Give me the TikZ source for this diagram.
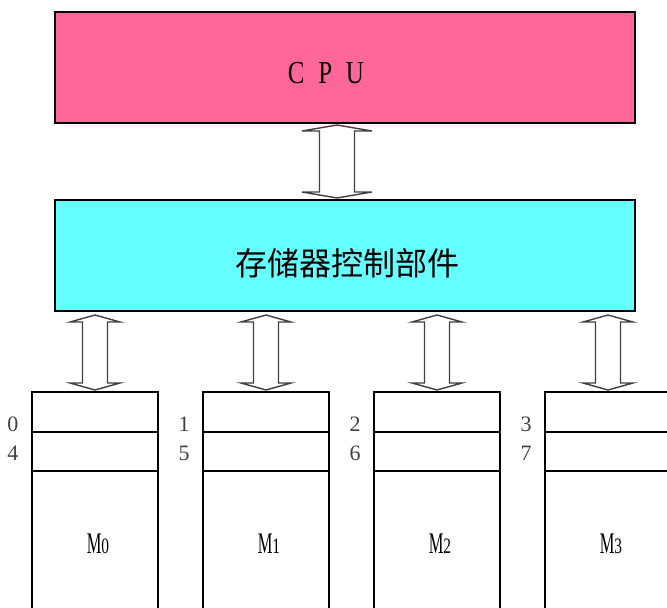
\documentclass[tikz,border=0pt]{standalone}
\usepackage{fontspec}
\setmainfont{Liberation Serif}
\newfontfamily\cjk{Noto Sans CJK SC}
\usetikzlibrary{calc}
\definecolor{CpuPink}{HTML}{FF6699}
\definecolor{CtrlCyan}{HTML}{66FFFF}
\definecolor{BusGray}{HTML}{404040}

% hollow double-headed bus arrow: top, bottom, shaft half width, head half width, head length
\newcommand\busarrow[5]{%
  \draw[bus] (#1) -- ($(#1)+(-#4,#5)$) -- ($(#1)+(-#3,#5)$) -- ($(#2)+(-#3,-#5)$)
    -- ($(#2)+(-#4,-#5)$) -- (#2) -- ($(#2)+(#4,-#5)$) -- ($(#2)+(#3,-#5)$)
    -- ($(#1)+(#3,#5)$) -- ($(#1)+(#4,#5)$) -- cycle;}

\begin{document}
\begin{tikzpicture}[
  x=1pt,y=-1pt,
  every node/.style={inner sep=0pt,outer sep=0pt},
  unit/.style={draw,line width=1.2pt,minimum width=580pt,minimum height=111pt,anchor=north west},
  bank/.style={draw,line width=1.2pt,minimum width=126pt,minimum height=230pt,anchor=north west},
  addr/.style={font=\fontsize{22}{24}\selectfont,text=black!75},
  bus/.style={draw=BusGray,line width=1.4pt,fill=white,line join=miter}
]
  \useasboundingbox (0,0) rectangle (667,608);

  \node[unit,fill=CpuPink] (cpu) at (55,12) {};
  \node[font=\fontsize{32}{34}\selectfont] (cpulabel) at (326,73)
    {\scalebox{0.78}[1]{C\hspace{0.55em}P\hspace{0.55em}U}};

  \node[unit,fill=CtrlCyan] (ctrl) at (55,200) {};
  \node[font=\cjk\fontsize{32}{34}\selectfont] (ctrllabel) at (347,263) {存储器控制部件};

  \coordinate (cpuport) at ($(cpu.south)+(-8,2)$);
  \coordinate (ctrlport) at ($(ctrl.north)+(-8,-2)$);
  \busarrow{cpuport}{ctrlport}{17.5}{35}{6}

  \foreach \i/\a/\b in {0/0/4,1/1/5,2/2/6,3/3/7}{
    \node[bank] (m\i) at (32+171*\i,392) {};
    \draw[line width=1.2pt] ($(m\i.north west)+(0,40)$) -- ($(m\i.north east)+(0,40)$);
    \draw[line width=1.2pt] ($(m\i.north west)+(0,79)$) -- ($(m\i.north east)+(0,79)$);
    \node[addr] (lo\i) at ($(m\i.north west)+(-19,32)$) {\a};
    \node[addr] (hi\i) at ($(m\i.north west)+(-19,61)$) {\b};
    \node[anchor=base] (name\i) at ($(m\i.north)+(3,161)$)
      {\fontsize{30}{32}\selectfont\scalebox{0.55}[1]{M}\fontsize{22}{24}\selectfont\scalebox{0.7}[1]{\i}};
    \coordinate (up\i) at ($(m\i.north |- ctrl.south)+(0,4)$);
    \coordinate (dn\i) at ($(m\i.north)+(0,-2)$);
    \busarrow{up\i}{dn\i}{12.5}{25}{7}
  }
\end{tikzpicture}
\end{document}
